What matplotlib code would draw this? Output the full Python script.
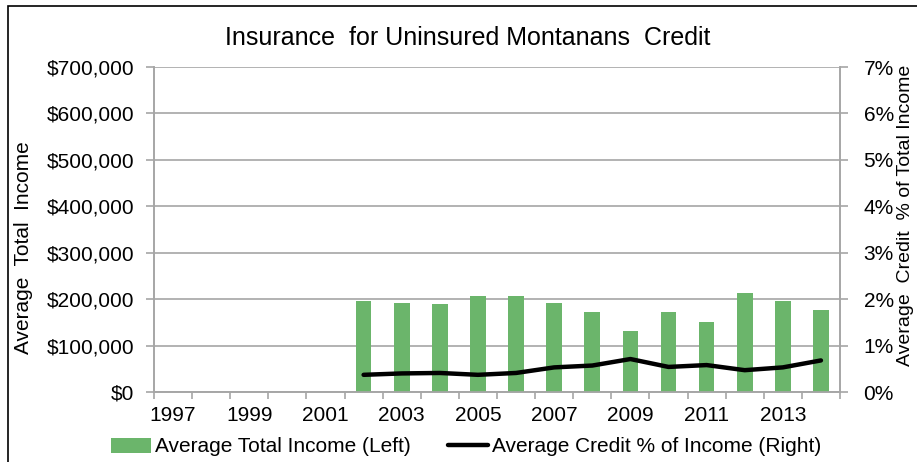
from matplotlib import pyplot as plt
from matplotlib.patches import Rectangle
from matplotlib.ticker import FuncFormatter
import numpy as np

plt.rcParams['font.family'] = ['Liberation Sans', 'DejaVu Sans']

years = list(range(1997, 2015))
income = [np.nan, np.nan, np.nan, np.nan, np.nan,
          197000, 192000, 189000, 206000, 206000, 192000, 172000,
          131000, 172000, 151000, 213000, 197000, 176000]
credit_pct = [np.nan, np.nan, np.nan, np.nan, np.nan,
              0.37, 0.40, 0.41, 0.37, 0.41, 0.53, 0.57,
              0.71, 0.54, 0.58, 0.47, 0.53, 0.68]

green = '#6bb56b'
grey = '#a6a6a6'
fs = 15

fig = plt.figure(figsize=(9.17, 4.62), dpi=100)
ax = fig.add_axes([154/917, 1 - 392/462, (840 - 154)/917, (392 - 67)/462])
ax2 = ax.twinx()

x = np.arange(len(years))
ax.bar(x, income, width=0.41, color=green, zorder=3, label='Average Total Income (Left)')
ax2.plot(x, credit_pct, color='black', lw=3.2, solid_capstyle='round',
         label='Average Credit % of Income (Right)')

ax.set_xlim(-0.5, len(years) - 0.5)
ax.set_ylim(0, 700000)
ax2.set_ylim(0, 7)
ax.set_yticks(np.arange(0, 700001, 100000))
ax2.set_yticks(np.arange(0, 8, 1))
ax.yaxis.set_major_formatter(FuncFormatter(lambda v, p: '${:,.0f}'.format(v)))
ax2.yaxis.set_major_formatter(FuncFormatter(lambda v, p: '{:.0f}%'.format(v)))

ax.set_xticks(x[::2])
ax.set_xticklabels([str(y) for y in years[::2]])
ax.set_xticks(np.arange(-0.5, len(years)), minor=True)
ax.tick_params(axis='x', which='major', length=0, pad=10, labelsize=fs)
ax.tick_params(axis='x', which='minor', length=5, color=grey, width=1.2)
ax.tick_params(axis='y', length=6, color=grey, width=1.2, pad=8, labelsize=fs)
ax2.tick_params(axis='y', length=6, color=grey, width=1.2, pad=11, labelsize=fs)

ax.grid(axis='y', color=grey, lw=1.2, zorder=0)
ax.set_axisbelow(True)
for a in (ax, ax2):
    a.spines['top'].set_visible(False)
    for s in ('left', 'right', 'bottom'):
        a.spines[s].set_color(grey)
        a.spines[s].set_linewidth(1.2)

fig.text(24/917, 1 - 248/462, 'Average  Total  Income', fontsize=fs,
         rotation=90, ha='center', va='center')
fig.text(905/917, 1 - 215/462, 'Average  Credit  % of Total Income', fontsize=14,
         rotation=90, ha='center', va='center')
fig.text(468/917, 1 - 38/462, 'Insurance  for Uninsured Montanans  Credit',
         fontsize=18, ha='center', va='center')

h1, l1 = ax.get_legend_handles_labels()
h2, l2 = ax2.get_legend_handles_labels()
fig.legend(h1 + h2, l1 + l2, loc='center', bbox_to_anchor=(466/917, 1 - 447/462),
           ncol=2, frameon=False, fontsize=fs, handlelength=1.9,
           handletextpad=0.2, columnspacing=1.8)

fig.patches.append(Rectangle((8/917, -0.5), 2, 1.5 - 6/462, fill=False,
                             edgecolor='black', lw=1.2, transform=fig.transFigure))

plt.savefig('out.png', dpi=100)
